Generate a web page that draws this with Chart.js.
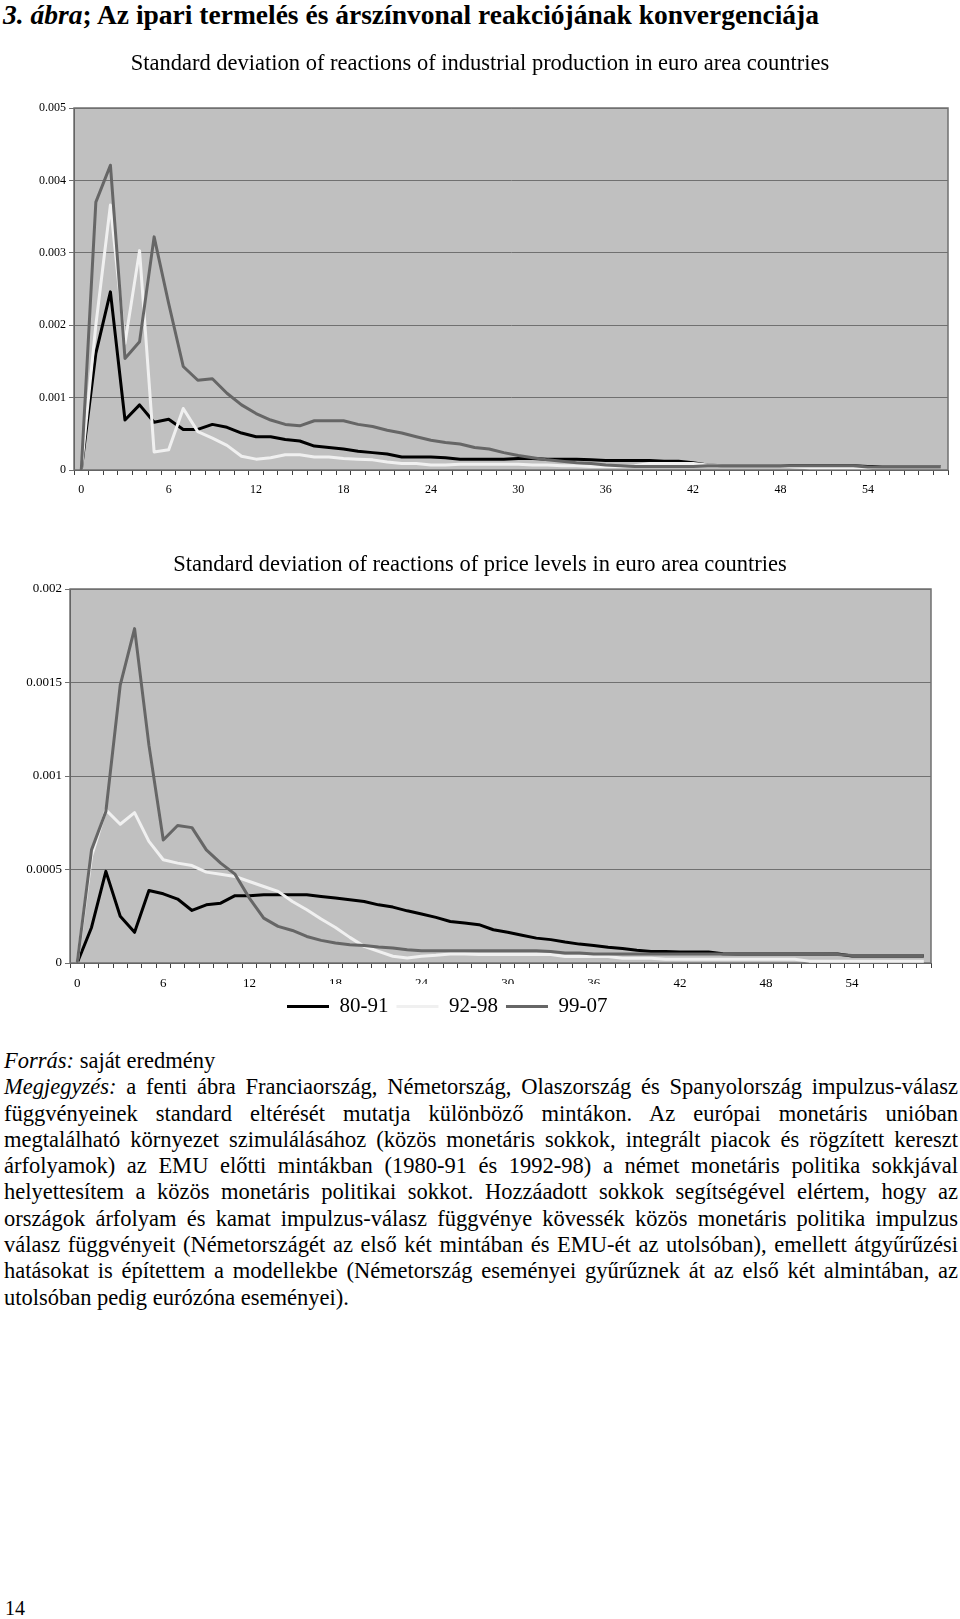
<!DOCTYPE html>
<html lang="hu">
<head>
<meta charset="UTF-8">
<title>3. ábra</title>
<script src="https://cdn.jsdelivr.net/npm/chart.js"></script>
<style>
    body { margin: 0; width: 960px; height: 1619px; position: relative; background: #fff; color: #000;
           font-family: 'Liberation Serif', 'Times New Roman', serif; overflow: hidden; }
    h1 { position: absolute; left: 3px; top: 0; margin: 0; font-size: 27.5px; line-height: 30px; font-weight: bold; white-space: nowrap; }
    h1 i { font-weight: bold; }
    .box { position: absolute; left: 0; width: 960px; }
    #box1 { top: 40px; height: 470px; }
    #box2 { top: 540px; height: 500px; }
    .note { position: absolute; left: 4px; top: 1048px; width: 954px; font-size: 22.5px; line-height: 26.3px; }
    .note div { white-space: nowrap; text-align: justify; text-align-last: justify; }
    .note div.left { text-align-last: left; }
    .page { position: absolute; left: 5px; top: 1595px; font-size: 20px; line-height: 26px; }
</style>
</head>
<body>

<h1><i>3. ábra</i>; Az ipari termelés és árszínvonal reakciójának konvergenciája</h1>

<div class="box" id="box1"><canvas id="chartIp" width="960" height="470"></canvas></div>
<div class="box" id="box2"><canvas id="chartPrice" width="960" height="500"></canvas></div>

<div class="note">
    <div class="left"><i>Forrás:</i> saját eredmény</div>
    <div><i>Megjegyzés:</i> a fenti ábra Franciaország, Németország, Olaszország és Spanyolország impulzus-válasz</div>
    <div>függvényeinek standard eltérését mutatja különböző mintákon. Az európai monetáris unióban</div>
    <div>megtalálható környezet szimulálásához (közös monetáris sokkok, integrált piacok és rögzített kereszt</div>
    <div>árfolyamok) az EMU előtti mintákban (1980-91 és 1992-98) a német monetáris politika sokkjával</div>
    <div>helyettesítem a közös monetáris politikai sokkot. Hozzáadott sokkok segítségével elértem, hogy az</div>
    <div>országok árfolyam és kamat impulzus-válasz függvénye kövessék közös monetáris politika impulzus</div>
    <div>válasz függvényeit (Németországét az első két mintában és EMU-ét az utolsóban), emellett átgyűrűzési</div>
    <div>hatásokat is építettem a modellekbe (Németország eseményei gyűrűznek át az első két almintában, az</div>
    <div class="left">utolsóban pedig eurózóna eseményei).</div>
</div>

<div class="page">14</div>

<script>
// horizon (months after the shock)
const periods = [0, 1, 2, 3, 4, 5, 6, 7, 8, 9, 10, 11, 12, 13, 14, 15, 16, 17, 18, 19,
                 20, 21, 22, 23, 24, 25, 26, 27, 28, 29, 30, 31, 32, 33, 34, 35, 36, 37, 38, 39,
                 40, 41, 42, 43, 44, 45, 46, 47, 48, 49, 50, 51, 52, 53, 54, 55, 56, 57, 58, 59];
const xTickLabels = ['0', '6', '12', '18', '24', '30', '36', '42', '48', '54'];
const seriesNames = ['80-91', '92-98', '99-07'];

// industrial production
const ip8091 = [0, 0.00161, 0.00246, 0.00069, 0.00090, 0.00066, 0.00070, 0.00056, 0.00056, 0.00063,
                0.00059, 0.00051, 0.00046, 0.00046, 0.00042, 0.00040, 0.00033, 0.00031, 0.00029, 0.00026,
                0.00024, 0.00022, 0.00018, 0.00018, 0.00018, 0.00017, 0.00015, 0.00015, 0.00015, 0.00015,
                0.00016, 0.00016, 0.00015, 0.00015, 0.00015, 0.00014, 0.00013, 0.00013, 0.00013, 0.00013,
                0.00012, 0.00012, 0.00010, 0.00007, 0.00006, 0.00006, 0.00006, 0.00006, 0.00006, 0.00006,
                0.00006, 0.00006, 0.00006, 0.00006, 0.00005, 0.00005, 0.00005, 0.00005, 0.00005, 0.00005];
const ip9298 = [0, 0.00200, 0.00366, 0.00175, 0.00303, 0.00025, 0.00028, 0.00085, 0.00053, 0.00044,
                0.00034, 0.00019, 0.00015, 0.00017, 0.00021, 0.00021, 0.00018, 0.00018, 0.00016, 0.00015,
                0.00014, 0.00011, 0.00009, 0.00009, 0.00007, 0.00007, 0.00008, 0.00008, 0.00008, 0.00008,
                0.00008, 0.00007, 0.00007, 0.00006, 0.00006, 0.00005, 0.00005, 0.00005, 0.00006, 0.00009,
                0.00009, 0.00009, 0.00009, 0.00007, 0.00006, 0.00006, 0.00006, 0.00006, 0.00006, 0.00004,
                0.00003, 0.00003, 0.00003, 0.00003, 0.00003, 0.00004, 0.00004, 0.00004, 0.00004, 0.00004];
const ip9907 = [0, 0.00370, 0.00421, 0.00154, 0.00177, 0.00322, 0.00230, 0.00143, 0.00124, 0.00126,
                0.00106, 0.00090, 0.00078, 0.00069, 0.00063, 0.00061, 0.00068, 0.00068, 0.00068, 0.00063,
                0.00060, 0.00055, 0.00051, 0.00046, 0.00041, 0.00038, 0.00036, 0.00031, 0.00029, 0.00024,
                0.00020, 0.00017, 0.00014, 0.00012, 0.00010, 0.00009, 0.00007, 0.00006, 0.00005, 0.00005,
                0.00005, 0.00005, 0.00005, 0.00006, 0.00006, 0.00006, 0.00006, 0.00006, 0.00006, 0.00006,
                0.00006, 0.00006, 0.00006, 0.00006, 0.00004, 0.00004, 0.00004, 0.00004, 0.00004, 0.00004];
const ipYLabels = ['0', '0.001', '0.002', '0.003', '0.004', '0.005'];

// price levels
const p8091 = [0, 0.000190, 0.000490, 0.000250, 0.000164, 0.000388, 0.000370, 0.000342, 0.000281, 0.000311,
               0.000320, 0.000360, 0.000360, 0.000365, 0.000365, 0.000365, 0.000365, 0.000356, 0.000347, 0.000338,
               0.000329, 0.000311, 0.000299, 0.000279, 0.000262, 0.000244, 0.000222, 0.000214, 0.000205, 0.000178,
               0.000164, 0.000148, 0.000133, 0.000125, 0.000112, 0.000101, 0.000094, 0.000084, 0.000077, 0.000068,
               0.000062, 0.000062, 0.000059, 0.000059, 0.000059, 0.000050, 0.000048, 0.000048, 0.000048, 0.000048,
               0.000048, 0.000048, 0.000048, 0.000048, 0.000037, 0.000037, 0.000037, 0.000037, 0.000037, 0.000037];
const p9298 = [0, 0.000570, 0.000819, 0.000742, 0.000804, 0.000650, 0.000552, 0.000534, 0.000521, 0.000486,
               0.000475, 0.000463, 0.000436, 0.000409, 0.000383, 0.000329, 0.000285, 0.000235, 0.000190, 0.000137,
               0.000089, 0.000062, 0.000036, 0.000027, 0.000036, 0.000041, 0.000048, 0.000048, 0.000045, 0.000045,
               0.000045, 0.000045, 0.000045, 0.000045, 0.000035, 0.000035, 0.000035, 0.000035, 0.000025, 0.000025,
               0.000025, 0.000020, 0.000020, 0.000020, 0.000020, 0.000020, 0.000020, 0.000020, 0.000020, 0.000020,
               0.000020, 0.000010, 0.000010, 0.000010, 0.000010, 0.000010, 0.000010, 0.000010, 0.000010, 0.000010];
const p9907 = [0, 0.000605, 0.000810, 0.001486, 0.001788, 0.001165, 0.000658, 0.000735, 0.000724, 0.000605,
               0.000534, 0.000475, 0.000347, 0.000240, 0.000196, 0.000174, 0.000142, 0.000121, 0.000107, 0.000098,
               0.000094, 0.000085, 0.000080, 0.000071, 0.000066, 0.000066, 0.000066, 0.000066, 0.000066, 0.000066,
               0.000066, 0.000066, 0.000066, 0.000062, 0.000053, 0.000053, 0.000048, 0.000048, 0.000048, 0.000048,
               0.000048, 0.000048, 0.000048, 0.000048, 0.000048, 0.000048, 0.000048, 0.000048, 0.000048, 0.000048,
               0.000048, 0.000048, 0.000048, 0.000045, 0.000040, 0.000040, 0.000040, 0.000040, 0.000040, 0.000040];
const priceYLabels = ['0', '0.0005', '0.001', '0.0015', '0.002'];

const lineColors = ['#000000', '#f0f0f0', '#666666'];
const serif = 'Liberation Serif, Times New Roman, serif';

// grey plot area with a thin frame, like the spreadsheet original
const plotFrame = {
    id: 'plotFrame',
    beforeDraw(chart) {
        const { ctx, chartArea: a } = chart;
        ctx.save();
        ctx.fillStyle = '#c0c0c0';
        ctx.fillRect(a.left, a.top, a.width, a.height);
        ctx.restore();
    },
    beforeDatasetsDraw(chart) {
        const { ctx, chartArea: a } = chart;
        ctx.save();
        ctx.strokeStyle = '#707070';
        ctx.lineWidth = 1.5;
        ctx.strokeRect(a.left, a.top, a.width, a.height);
        ctx.restore();
    }
};

// title centred on the page; legend a bit left of centre, covering the lower half of the axis labels
const boxTweaks = {
    id: 'boxTweaks',
    afterLayout(chart, args, opts) {
        const t = chart.titleBlock;
        if (t) {
            t.left = 0;
            t.right = chart.width;
        }
        const lg = chart.legend;
        if (!lg || !lg.options.display || !lg.lineWidths) return;
        const pad = lg.options.labels.padding;
        const start = (lg.left + pad + lg.right - lg.lineWidths[0]) / 2;
        const d = opts.startX - start;
        lg.left += d;
        lg.right += d;
    },
    afterDraw(chart, args, opts) {
        const lg = chart.legend;
        if (!lg || !lg.options.display || !lg.lineWidths) return;
        const pad = lg.options.labels.padding;
        const x0 = opts.startX - 14;
        const x1 = opts.startX + lg.lineWidths[0] + 6;
        const y0 = lg.top + pad - opts.coverUp;
        const y1 = lg.bottom;
        const ctx = chart.ctx;
        ctx.save();
        ctx.fillStyle = '#ffffff';
        ctx.fillRect(x0, y0, x1 - x0, y1 - y0);
        ctx.restore();
        lg.draw();
    }
};

function makeChart(id, data, cfg) {
    const ctx = document.getElementById(id).getContext('2d');
    return new Chart(ctx, {
        type: 'line',
        data: {
            labels: periods,
            datasets: data.map((d, i) => ({
                label: seriesNames[i],
                data: d,
                borderColor: lineColors[i],
                backgroundColor: lineColors[i],
                borderWidth: 3,
                pointRadius: 0,
                tension: 0,
                borderJoinStyle: 'round',
                order: 3 - i
            }))
        },
        options: {
            responsive: false,
            animation: false,
            devicePixelRatio: 1,
            layout: { padding: cfg.padding },
            plugins: {
                title: {
                    display: true,
                    text: cfg.title,
                    color: '#000',
                    font: { family: serif, size: 22.5, weight: 'normal' },
                    padding: cfg.titlePadding
                },
                legend: {
                    display: cfg.legend,
                    position: 'bottom',
                    labels: {
                        color: '#000',
                        font: { family: serif, size: 21 },
                        usePointStyle: true,
                        pointStyle: 'line',
                        pointStyleWidth: 42,
                        padding: 8,
                        sort: (a, b) => a.datasetIndex - b.datasetIndex
                    }
                },
                boxTweaks: { startX: 287, coverUp: 12 },
                tooltip: { enabled: false }
            },
            scales: {
                x: {
                    offset: true,
                    afterFit: s => { s.height = cfg.xHeight; },
                    border: { color: '#404040', width: 1 },
                    grid: { offset: true, drawOnChartArea: false, tickLength: 5, color: '#404040' },
                    ticks: {
                        autoSkip: false,
                        maxRotation: 0,
                        padding: cfg.xPad,
                        color: '#000',
                        font: { family: serif, size: cfg.tickSize },
                        callback: function (v) {
                            const l = String(this.getLabelForValue(v));
                            return xTickLabels.includes(l) ? l : '';
                        }
                    }
                },
                y: {
                    min: 0,
                    max: cfg.yMax,
                    afterFit: s => { s.width = cfg.yWidth; },
                    border: { color: '#404040', width: 1 },
                    grid: { color: '#707070', tickLength: 5 },
                    ticks: {
                        stepSize: cfg.yStep,
                        padding: 3,
                        color: '#000',
                        font: { family: serif, size: cfg.tickSize },
                        callback: (v, i) => cfg.yLabels[i]
                    }
                }
            }
        },
        plugins: [plotFrame, boxTweaks]
    });
}

makeChart('chartIp', [ip8091, ip9298, ip9907], {
    title: 'Standard deviation of reactions of industrial production in euro area countries',
    titlePadding: { top: 11, bottom: 30 },
    padding: { left: 0, right: 12, top: 0, bottom: 0 },
    legend: false,
    yMax: 0.005, yStep: 0.001, yLabels: ipYLabels,
    yWidth: 74, xHeight: 40, xPad: 8, tickSize: 12
});

makeChart('chartPrice', [p8091, p9298, p9907], {
    title: 'Standard deviation of reactions of price levels in euro area countries',
    titlePadding: { top: 12, bottom: 10 },
    padding: { left: 0, right: 29, top: 0, bottom: 13 },
    legend: true,
    yMax: 0.002, yStep: 0.0005, yLabels: priceYLabels,
    yWidth: 70, xHeight: 25, xPad: 8, tickSize: 13
});
</script>
</body>
</html>
